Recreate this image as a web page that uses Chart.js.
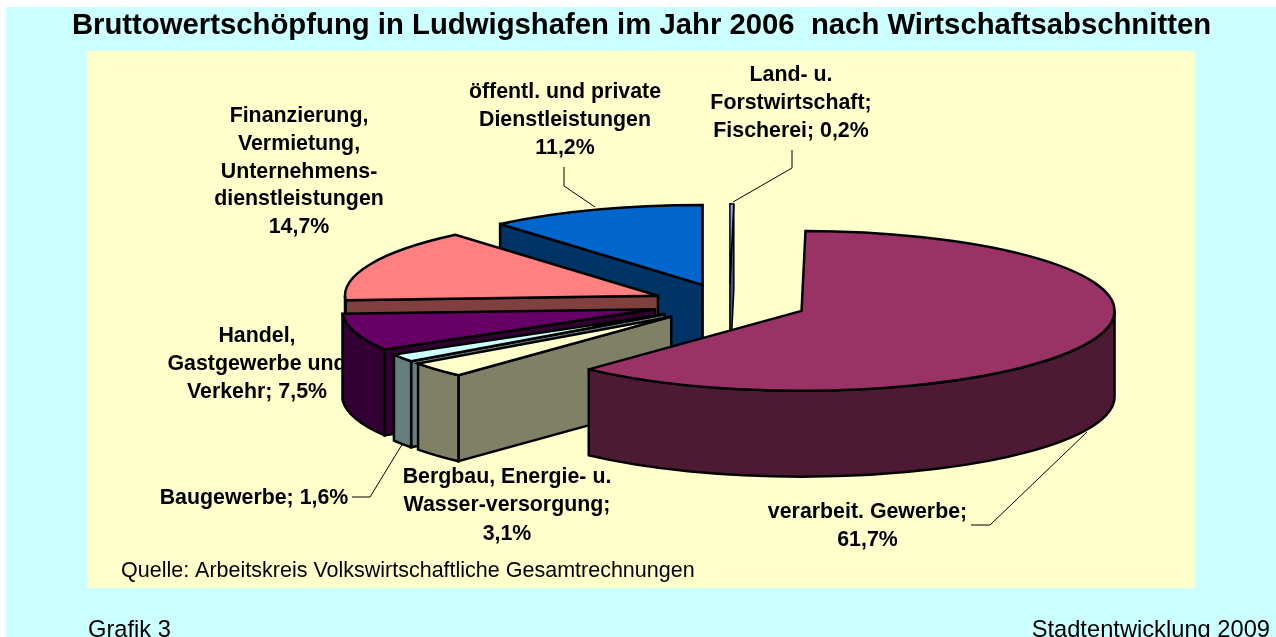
<!DOCTYPE html>
<html><head><meta charset="utf-8">
<style>html,body{margin:0;padding:0;background:#fff}canvas{display:block}</style>
<script src="https://cdn.jsdelivr.net/npm/chart.js@4/dist/chart.umd.js"></script>
</head><body>
<div style="width:1276px;height:637px"><canvas id="c" width="1276" height="637"></canvas></div>
<script>
const categories = ["Land- u. Forstwirtschaft; Fischerei","verarbeit. Gewerbe","Bergbau, Energie- u. Wasser-versorgung","Baugewerbe","Handel, Gastgewerbe und Verkehr","Finanzierung, Vermietung, Unternehmensdienstleistungen","öffentl. und private Dienstleistungen"];
const shares = [0.2,61.7,3.1,1.6,7.5,14.7,11.2];
const topColors = ["#9999ff","#993366","#ffffcc","#ccffff","#660066","#ff8080","#0066cc"];
const sideColors = ["#4d4d80","#4d1a33","#808066","#668080","#330033","#804040","#003366"];
const outlineWidths = [1.5,2.5,2.5,2.5,2.5,2.5,2.5];
const paintOrder = [6,0,5,4,3,2,1];
const titleText = "Bruttowertschöpfung in Ludwigshafen im Jahr 2006  nach Wirtschaftsabschnitten";
const labelBlocks = [
 {x:791,ys:[75.3,102.8,131],lines:["Land- u.","Forstwirtschaft;","Fischerei; 0,2%"]},
 {x:565,ys:[92,120.3,148.5],lines:["öffentl. und private","Dienstleistungen","11,2%"]},
 {x:299,ys:[116,144,172,199.5,227.5],lines:["Finanzierung,","Vermietung,","Unternehmens-","dienstleistungen","14,7%"]},
 {x:257,ys:[336.5,364.5,392.5],lines:["Handel,","Gastgewerbe und","Verkehr; 7,5%"]},
 {x:254,ys:[498],lines:["Baugewerbe; 1,6%"]},
 {x:507,ys:[477.5,505.3,534],lines:["Bergbau, Energie- u.","Wasser-versorgung;","3,1%"]},
 {x:867.5,ys:[512,540],lines:["verarbeit. Gewerbe;","61,7%"]}
];
const leaders = [
 [[733,202],[792,168],[792,150]],
 [[595,207],[564,186],[564,167]],
 [[352,497],[370,497],[403,443]],
 [[971,525],[990,525],[1087,432]]
];
const squash = 0.255, explode = 77.7, wallDepth = 86;

function drawScene(chart){
  const ctx = chart.ctx;
  const arcs = chart.getDatasetMeta(0).data;
  const TWO = Math.PI*2;
  const opts = color=>({backgroundColor:color,borderColor:color,borderWidth:0,borderAlign:'center',borderRadius:0,borderJoinStyle:'miter',offset:0,spacing:0,circular:true,borderDash:[],borderDashOffset:0});
  for(const i of paintOrder){
    const a=arcs[i], mid=(a.startAngle+a.endAngle)/2, R=a.outerRadius, D=wallDepth;
    const ox=Math.cos(mid)*explode, oy=Math.sin(mid)*explode;
    const ax=a.x+ox, ay=a.y+oy*squash;
    const corner=t=>[ax+Math.cos(t)*R, ay+Math.sin(t)*R*squash];
    const s=a.startAngle, e=a.endAngle;
    ctx.save();
    ctx.lineWidth=outlineWidths[i]; ctx.lineJoin='miter'; ctx.miterLimit=4; ctx.strokeStyle='#000'; ctx.fillStyle=sideColors[i];
    const quad=t=>{ const c=corner(t);
      ctx.beginPath(); ctx.moveTo(ax,ay); ctx.lineTo(c[0],c[1]); ctx.lineTo(c[0],c[1]+D); ctx.lineTo(ax,ay+D); ctx.closePath(); ctx.fill(); ctx.stroke(); };
    if(Math.cos(s)<-1e-6) quad(s);
    if(Math.cos(e)> 1e-6) quad(e);
    for(const k of [0,1,-1]){
      const lo=Math.max(s,k*TWO), hi=Math.min(e,k*TWO+Math.PI);
      if(hi<=lo) continue;
      ctx.beginPath();
      ctx.ellipse(ax,ay,R,R*squash,0,lo,hi,false);
      ctx.ellipse(ax,ay+D,R,R*squash,0,hi,lo,true);
      ctx.closePath(); ctx.fill(); ctx.stroke();
    }
    ctx.restore();
    const saved=a.options; a.options=opts(topColors[i]);
    ctx.save();
    ctx.translate(a.x,a.y); ctx.scale(1,squash); ctx.translate(-a.x,-a.y);
    ctx.translate(ox,oy);
    a.draw(ctx);
    ctx.restore();
    a.options=saved;
    ctx.save();
    ctx.lineWidth=outlineWidths[i]; ctx.lineJoin='miter'; ctx.miterLimit=4; ctx.strokeStyle='#000';
    ctx.beginPath(); ctx.moveTo(ax,ay); ctx.ellipse(ax,ay,R,R*squash,0,s,e,false); ctx.closePath(); ctx.stroke();
    ctx.restore();
  }
}

const scene = {
  id:'scene',
  beforeDraw(chart){
    const ctx=chart.ctx;
    ctx.save();
    ctx.fillStyle='#ccffff'; ctx.fillRect(6,7,1270,630);
    ctx.fillStyle='#ffffcc'; ctx.fillRect(87,51,1108,537);
    ctx.fillStyle='#000';
    ctx.textBaseline='alphabetic'; ctx.textAlign='center';
    ctx.font='bold 29.3px "Liberation Sans"';
    ctx.fillText(titleText,641.5,33.5);
    ctx.textBaseline='middle';
    ctx.font='bold 21.35px "Liberation Sans"';
    for(const b of labelBlocks) b.lines.forEach((t,i)=>ctx.fillText(t,b.x,b.ys[i]));
    ctx.font='21.5px "Liberation Sans"'; ctx.textAlign='left';
    ctx.fillText("Quelle: Arbeitskreis Volkswirtschaftliche Gesamtrechnungen",121,571);
    ctx.textBaseline='alphabetic';
    ctx.font='23.7px "Liberation Sans"';
    ctx.fillText("Grafik 3",88,637);
    ctx.textAlign='right';
    ctx.fillText("Stadtentwicklung 2009",1270,637);
    ctx.strokeStyle='#000'; ctx.lineWidth=1;
    for(const l of leaders){ ctx.beginPath(); l.forEach((p,i)=>i?ctx.lineTo(p[0],p[1]):ctx.moveTo(p[0],p[1])); ctx.stroke(); }
    ctx.restore();
  },
  beforeDatasetsDraw(chart){ drawScene(chart); return false; }
};

new Chart(document.getElementById('c'),{
  type:'pie',
  data:{labels:categories,datasets:[{data:shares,backgroundColor:topColors,borderWidth:0}]},
  options:{
    responsive:false,animation:false,radius:313,
    layout:{padding:{left:182.8,top:0,bottom:30,right:0}},
    plugins:{legend:{display:false},tooltip:{enabled:false},title:{display:false}}
  },
  plugins:[scene]
});
</script>
</body></html>
